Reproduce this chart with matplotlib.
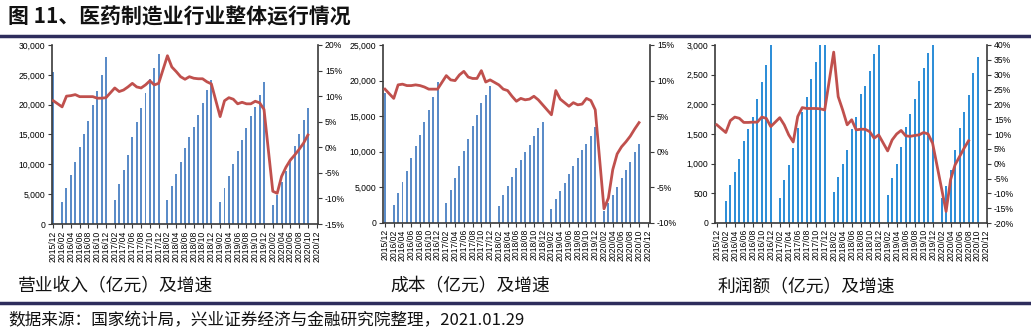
import matplotlib
matplotlib.use("Agg")
import matplotlib.pyplot as plt
from matplotlib.lines import Line2D
from matplotlib.ticker import FuncFormatter, MultipleLocator
import numpy as np

plt.rcParams['font.family'] = ['Liberation Sans', 'Noto Sans CJK SC', 'DejaVu Sans']

# Months 2015/12 .. 2020/12 (January is reported together with February)
years = [2016, 2017, 2018, 2019, 2020]
months = ['2015/12'] + [f'{y}/{m:02d}' for y in years for m in range(1, 13)]

N = None
# 营业收入（亿元）
revenue = [25500,
           N, 3700, 6080, 8200, 10370, 12880, 15110, 17340, 19900, 22300, 24980, 28050,
           N, 4070, 6690, 9090, 11600, 14500, 17060, 19520, 21910, 24260, 26150, 28490,
           N, 3960, 6300, 8360, 10370, 12710, 14500, 16340, 18290, 20350, 22470, 24150,
           N, 3680, 5970, 7970, 9980, 12160, 14110, 16060, 18120, 19630, 21640, 23860,
           N, 3120, 4910, 6970, 8810, 10800, 13000, 15000, 17450, 19520, N, N]
revenue_yoy = [9.1,
               N, 7.9, 10.0, 10.1, 10.3, 9.9, 9.9, 9.9, 9.9, 9.6, 9.6, 9.7,
               N, 11.6, 10.9, 11.2, 11.8, 12.5, 11.8, 11.6, 12.2, 13.0, 12.2, 12.5,
               N, 17.9, 15.7, 14.8, 13.8, 13.3, 13.8, 13.5, 13.4, 13.4, 12.8, 12.4,
               N, 6.0, 9.1, 9.7, 9.4, 8.5, 8.8, 8.5, 8.5, 9.0, 8.7, 7.4,
               N, -8.6, -9.0, -5.7, -3.9, -2.5, -1.5, -0.4, 0.8, 2.4, N, N]

# 成本（亿元）
cost = [18220,
        N, 2480, 4200, 5750, 7290, 9110, 10750, 12290, 14160, 15890, 17760, 19860,
        N, 2800, 4580, 6310, 8040, 10050, 11820, 13640, 15190, 16820, 17990, 19250,
        N, 2430, 3880, 5140, 6400, 7710, 8880, 9910, 10980, 12150, 13320, 14160,
        N, 2010, 3360, 4490, 5650, 6920, 8040, 9160, 10280, 11120, 12240, 13500,
        N, 1640, 2800, 3970, 5090, 6360, 7480, 8600, 9950, 11120, N, N]
cost_yoy = [8.8,
            N, 7.5, 9.4, 9.5, 9.3, 9.3, 9.4, 9.3, 9.1, 8.8, 8.8, 8.8,
            N, 10.7, 10.1, 10.0, 10.8, 11.3, 10.5, 10.3, 10.3, 11.4, 9.8, 10.1,
            N, 9.4, 8.8, 8.6, 7.8, 7.1, 7.5, 7.3, 7.4, 7.8, 7.3, 6.6,
            N, 5.2, 8.6, 7.4, 6.9, 6.4, 6.9, 6.6, 6.7, 7.5, 7.2, 5.9,
            N, -8.0, -6.5, -2.5, -0.3, 0.7, 1.4, 2.2, 3.2, 4.1, N, N]

# 利润额（亿元）
profit = [N,
          N, 370, 634, 852, 1082, 1379, 1581, 1794, 2086, 2372, 2664, 3002,
          N, 421, 718, 981, 1262, 1598, 1879, 2131, 2428, 2720, 3040, 3314,
          N, 516, 774, 993, 1234, 1587, 1794, 2176, 2316, 2563, 2843, 3094,
          N, 477, 757, 998, 1279, 1615, 1833, 2086, 2400, 2619, 2860, 3120,
          N, 420, 617, 897, 1233, 1598, 1878, 2159, 2524, 2803, N, N]
profit_yoy = [13.1,
              N, 10.5, 14.5, 15.7, 15.3, 13.9, 13.9, 14.0, 14.0, 15.7, 15.3, 12.5,
              N, 15.5, 13.1, 9.7, 7.3, 15.9, 18.9, 18.6, 18.6, 18.6, 18.5, 18.1,
              N, 37.6, 22.6, 18.1, 13.1, 14.8, 11.4, 11.6, 11.6, 10.8, 8.6, 9.7,
              N, 4.3, 8.0, 10.0, 11.2, 9.4, 9.2, 9.5, 9.7, 10.5, 10.0, 6.9,
              N, N, -16.1, -5.4, -0.4, 2.4, 5.2, 7.7, N, N, N, N]

subtitles = ['营业收入（亿元）及增速', '成本（亿元）及增速', '利润额（亿元）及增速']
title = '图 11、医药制造业行业整体运行情况'
source = '数据来源：国家统计局，兴业证券经济与金融研究院整理，2021.01.29'

W, H = 1031, 332
fig = plt.figure(figsize=(W / 100, H / 100), dpi=100)

def px_axes(l, t, r, b):
    return fig.add_axes([l / W, 1 - b / H, (r - l) / W, (b - t) / H])

panels = [
    dict(box=(52, 45, 318, 224), bars=revenue, line=revenue_yoy,
         ylim=(0, 30000), ystep=5000, rlim=(-15, 20), rstep=5,
         xlim=(-0.3, 60.3), color='#5B8CC8'),
    dict(box=(383, 45, 650, 223), bars=cost, line=cost_yoy,
         ylim=(0, 25000), ystep=5000, rlim=(-10, 15), rstep=5,
         xlim=(-0.45, 60.5), color='#5B8CC8'),
    dict(box=(715, 45, 987, 223), bars=profit, line=profit_yoy,
         ylim=(0, 3000), ystep=500, rlim=(-20, 40), rstep=5,
         xlim=(-0.4, 60.1), color='#2F8FD8'),
]

x_all = np.arange(len(months))
tick_fs = 6.2
spine_c = '#3A3A3A'

for p in panels:
    ax = px_axes(*p['box'])
    bv = np.array([np.nan if v is None else v for v in p['bars']], dtype=float)
    ok = ~np.isnan(bv)
    ax.bar(x_all[ok], bv[ok], width=0.45, color=p['color'], zorder=2)
    ax.set_xlim(*p['xlim'])
    ax.set_ylim(*p['ylim'])
    ax.yaxis.set_major_locator(MultipleLocator(p['ystep']))
    ax.yaxis.set_major_formatter(FuncFormatter(lambda v, _: f'{v:,.0f}'))
    ax.set_xticks(x_all[::2])
    ax.set_xticklabels(months[::2], rotation=90, fontsize=tick_fs)
    ax.tick_params(axis='y', labelsize=tick_fs, length=3, width=0.8, direction='out', color=spine_c, pad=2)
    ax.tick_params(axis='x', length=3, width=0.8, direction='out', color=spine_c, pad=1.5)
    for s in ('top', 'right'):
        ax.spines[s].set_visible(False)
    for s in ('left', 'bottom'):
        ax.spines[s].set_color(spine_c)
        ax.spines[s].set_linewidth(1.2)

    ax2 = ax.twinx()
    lv = np.array([np.nan if v is None else v for v in p['line']], dtype=float)
    okl = ~np.isnan(lv)
    ax2.plot(x_all[okl], lv[okl], color='#C0504D', lw=2.0, zorder=3)
    ax2.set_ylim(*p['rlim'])
    ax2.yaxis.set_major_locator(MultipleLocator(p['rstep']))
    ax2.yaxis.set_major_formatter(FuncFormatter(lambda v, _: f'{v:.0f}%'))
    ax2.tick_params(axis='y', labelsize=tick_fs, length=3, width=0.8, direction='out', color=spine_c, pad=2)
    for s in ('top', 'left', 'bottom'):
        ax2.spines[s].set_visible(False)
    ax2.spines['right'].set_color(spine_c)
    ax2.spines['right'].set_linewidth(1.2)

# header, captions and source line
cjk = ['Noto Sans CJK SC', 'DejaVu Sans']
fig.text(8 / W, 1 - 17 / H, title, fontsize=15, fontweight='bold',
         family=cjk, va='center', ha='left', color='#111111')
fig.add_artist(Line2D([0, 1], [1 - 36 / H] * 2, color='#2E2D5C', lw=2.5))

for xp, txt in zip((18, 390, 718), subtitles):
    fig.text(xp / W, 1 - 286 / H, txt, fontsize=12.8, family=cjk,
             va='center', ha='left', color='#111111')

fig.add_artist(Line2D([0, 1], [1 - 303 / H] * 2, color='#2E2D5C', lw=2.5))
fig.text(8 / W, 1 - 321 / H, source, fontsize=12, family=cjk,
         va='center', ha='left', color='#111111')

fig.savefig('out.png', dpi=100)
